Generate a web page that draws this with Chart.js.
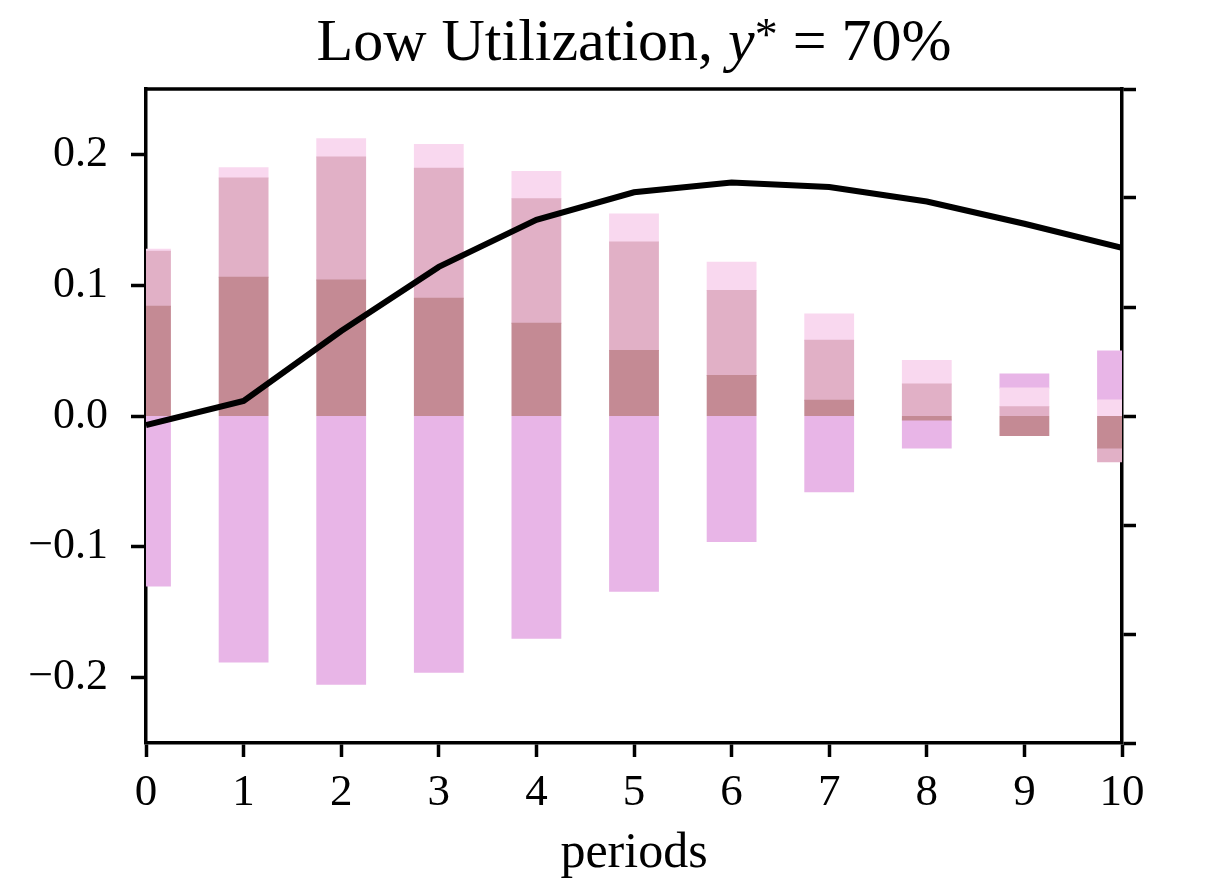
<!DOCTYPE html>
<html lang="en">
<head>
  <meta charset="UTF-8">
  <title>Low Utilization</title>
  <script src="https://cdn.jsdelivr.net/npm/chart.js"></script>
  <style>
    html, body { margin: 0; padding: 0; background: #fff; }
    #wrap { width: 1218px; height: 886px; }
  </style>
</head>
<body>
  <div id="wrap"><canvas id="chart" width="1218" height="886"></canvas></div>

  <script>
    // periods on the x axis
    const periods = [0, 1, 2, 3, 4, 5, 6, 7, 8, 9, 10];
    const xTicks = [0, 1, 2, 3, 4, 5, 6, 7, 8, 9, 10];
    const yTicks = [-0.2, -0.1, 0.0, 0.1, 0.2];
    const rightTicks = [-3, -2, -1, 0, 1, 2, 3];

    // stacked bar components
    const compDark   = [0.084, 0.106, 0.104, 0.090, 0.071, 0.050, 0.031, 0.012, -0.003, -0.015, -0.0245];
    const compMid    = [0.042, 0.076, 0.094, 0.0995, 0.095, 0.083, 0.065, 0.046, 0.0245, 0.007, -0.0105];
    const compLight  = [0.0015, 0.0077, 0.014, 0.018, 0.021, 0.0215, 0.0215, 0.020, 0.018, 0.0145, 0.0122];
    const compViolet = [-0.130, -0.188, -0.205, -0.196, -0.170, -0.134, -0.096, -0.058, -0.0215, 0.0107, 0.0375];

    // total response line
    const total = [-0.007, 0.0115, 0.065, 0.114, 0.150, 0.171, 0.1785, 0.175, 0.164, 0.147, 0.1285];

    const FONT = "'Liberation Serif', 'Times New Roman', serif";

    const fmt = (v) => (v < 0 ? '\u2212' : '') + Math.abs(v).toFixed(1);

    // top spine + mixed-style title
    const frameAndTitle = {
      id: 'frameAndTitle',
      afterDraw(chart) {
        const { ctx, chartArea } = chart;
        ctx.save();
        ctx.strokeStyle = '#000';
        ctx.lineWidth = 3.5;
        ctx.beginPath();
        ctx.moveTo(chartArea.left - 1.5, chartArea.top);
        ctx.lineTo(chartArea.right + 1.5, chartArea.top);
        ctx.stroke();

        const parts = [
          { t: 'Low Utilization, ', f: `60px ${FONT}`, dy: 0 },
          { t: 'y', f: `italic 60px ${FONT}`, dy: 0 },
          { t: '*', f: `46px ${FONT}`, dy: -10 },
          { t: ' = 70%', f: `60px ${FONT}`, dy: 0 },
        ];
        let w = 0;
        parts.forEach((p) => { ctx.font = p.f; p.w = ctx.measureText(p.t).width; w += p.w; });
        let x = (chartArea.left + chartArea.right) / 2 - w / 2;
        const base = 60;
        ctx.fillStyle = '#000';
        ctx.textBaseline = 'alphabetic';
        ctx.textAlign = 'left';
        parts.forEach((p) => { ctx.font = p.f; ctx.fillText(p.t, x, base + p.dy); x += p.w; });
        ctx.restore();
      }
    };

    const barDs = (label, data, color) => ({
      type: 'bar',
      label: label,
      data: data,
      backgroundColor: color,
      borderWidth: 0,
      inflateAmount: 0.5,
      categoryPercentage: 0.5,
      barPercentage: 1.0,
      clip: 0,
      order: 1,
    });

    new Chart(document.getElementById('chart'), {
      data: {
        labels: periods,
        datasets: [
          barDs('component 1', compDark, '#c48a94'),
          barDs('component 2', compMid, '#e1b0c6'),
          barDs('component 3', compLight, '#f9d8ef'),
          barDs('component 4', compViolet, '#e8b5e7'),
          {
            type: 'line',
            label: 'total',
            data: total,
            borderColor: '#000',
            borderWidth: 6,
            pointRadius: 0,
            tension: 0,
            fill: false,
            clip: 0,
            order: 0,
          },
        ],
      },
      options: {
        responsive: false,
        animation: false,
        layout: { padding: { top: 89, left: 0, right: 0, bottom: 0 } },
        plugins: { legend: { display: false }, tooltip: { enabled: false } },
        scales: {
          x: {
            type: 'linear',
            min: 0,
            max: 10,
            stacked: true,
            offset: false,
            afterBuildTicks: (s) => { s.ticks = xTicks.map((v) => ({ value: v })); },
            afterFit: (s) => { s.height = 143; },
            grid: { offset: false, drawOnChartArea: false, drawTicks: true, tickLength: 14, tickWidth: 3.5, color: '#000' },
            border: { display: true, color: '#000', width: 3.5 },
            ticks: { color: '#000', font: { family: FONT, size: 45 }, padding: 9, maxRotation: 0, autoSkip: false },
            title: { display: true, text: 'periods', color: '#000', font: { family: FONT, size: 50 }, padding: { top: 0, bottom: 2 } },
          },
          y: {
            type: 'linear',
            position: 'left',
            min: -0.25,
            max: 0.25,
            stacked: true,
            afterBuildTicks: (s) => { s.ticks = yTicks.map((v) => ({ value: v })); },
            afterFit: (s) => { s.width = 146; },
            grid: { drawOnChartArea: false, drawTicks: true, tickLength: 15, tickWidth: 3.5, color: '#000' },
            border: { display: true, color: '#000', width: 3.5 },
            ticks: { color: '#000', font: { family: FONT, size: 44 }, padding: 23, callback: (v) => fmt(v) },
          },
          y2: {
            type: 'linear',
            position: 'right',
            min: -3,
            max: 3,
            afterBuildTicks: (s) => { s.ticks = rightTicks.map((v) => ({ value: v })); },
            afterFit: (s) => { s.width = 96; },
            grid: { drawOnChartArea: false, drawTicks: true, tickLength: 14, tickWidth: 3.5, color: '#000' },
            border: { display: true, color: '#000', width: 3.5 },
            ticks: { display: false },
          },
        },
      },
      plugins: [frameAndTitle],
    });
  </script>
</body>
</html>
